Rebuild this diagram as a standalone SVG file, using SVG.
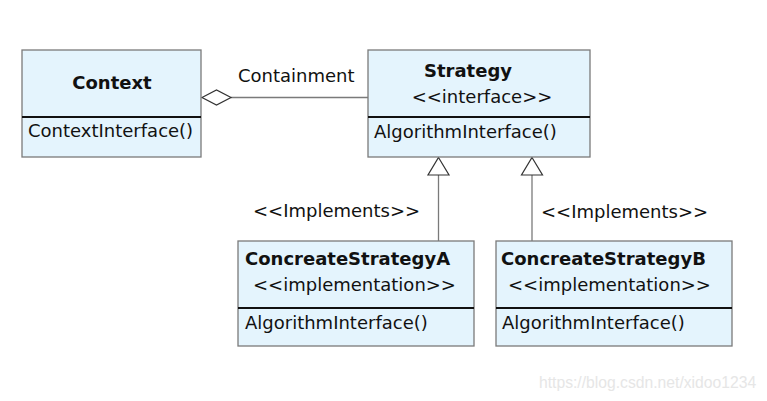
<svg xmlns="http://www.w3.org/2000/svg" width="767" height="401" viewBox="0 0 767 401">
<style>
.box{fill:#e4f4fd;stroke:#7a7a7a;stroke-width:1.3}
.div{stroke:#111;stroke-width:2.2}
text{font-family:"DejaVu Sans",sans-serif;font-size:18px;fill:#111}
.b{font-weight:bold}
.conn{stroke:#7a7a7a;stroke-width:1.3;fill:none}
.head{fill:#fff;stroke:#333;stroke-width:1.2}
.wm{font-family:"Liberation Sans",Arial,sans-serif;font-size:15.7px;fill:#e6e6e6}
</style>
<rect width="767" height="401" fill="#fff"/>
<g id="connectors">
<line class="conn" x1="231" y1="97.5" x2="368" y2="97.5"/>
<polygon class="head" points="202,97.5 216.5,90 231,97.5 216.5,105"/>
<line class="conn" x1="438.5" y1="175" x2="438.5" y2="241"/>
<polygon class="head" points="438.5,157.5 449,175 428,175"/>
<line class="conn" x1="532" y1="175" x2="532" y2="241"/>
<polygon class="head" points="532,157.5 542.5,175 521.5,175"/>
<text x="238" y="82">Containment</text>
<text x="253" y="217">&lt;&lt;Implements&gt;&gt;</text>
<text x="541" y="218">&lt;&lt;Implements&gt;&gt;</text>
</g>
<g id="context">
<rect class="box" x="22" y="50" width="179" height="107"/>
<line class="div" x1="22" y1="117" x2="201" y2="117"/>
<text class="b" x="112" y="89" text-anchor="middle">Context</text>
<text x="28" y="137">ContextInterface()</text>
</g>
<g id="strategy">
<rect class="box" x="368" y="50" width="222" height="107"/>
<line class="div" x1="368" y1="117" x2="590" y2="117"/>
<text class="b" x="468" y="77" text-anchor="middle">Strategy</text>
<text x="482" y="103" text-anchor="middle">&lt;&lt;interface&gt;&gt;</text>
<text x="374" y="138">AlgorithmInterface()</text>
</g>
<g id="concreteA">
<rect class="box" x="238" y="241" width="236" height="105"/>
<line class="div" x1="238" y1="308" x2="474" y2="308"/>
<text class="b" x="245" y="265">ConcreateStrategyA</text>
<text x="253" y="291">&lt;&lt;implementation&gt;&gt;</text>
<text x="245" y="329">AlgorithmInterface()</text>
</g>
<g id="concreteB">
<rect class="box" x="496" y="241" width="236" height="105"/>
<line class="div" x1="496" y1="308" x2="732" y2="308"/>
<text class="b" x="501" y="265">ConcreateStrategyB</text>
<text x="508" y="291">&lt;&lt;implementation&gt;&gt;</text>
<text x="502" y="329">AlgorithmInterface()</text>
</g>
<text class="wm" x="539" y="388">https://blog.csdn.net/xidoo1234</text>
</svg>
